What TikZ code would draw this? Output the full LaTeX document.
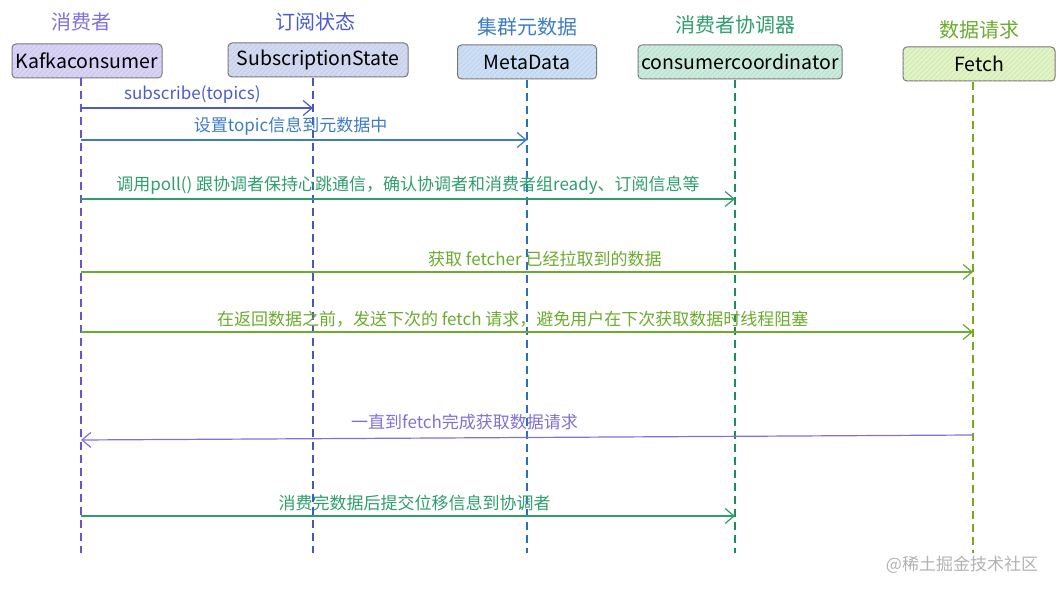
\documentclass[tikz,border=0pt]{standalone}
\usepackage{fontspec}
\setmainfont{Noto Sans CJK SC}
\usetikzlibrary{arrows.meta,patterns.meta}

\definecolor{cKc}{HTML}{6B53CF}
\definecolor{cSs}{HTML}{4656C4}
\definecolor{cMd}{HTML}{2F6EBA}
\definecolor{cCc}{HTML}{1F8C5E}
\definecolor{cFt}{HTML}{78A81E}
\definecolor{tKc}{HTML}{8270D8}
\definecolor{tSs}{HTML}{4B5BCC}
\definecolor{tMd}{HTML}{3D7CC4}
\definecolor{tCc}{HTML}{2E9E6E}
\definecolor{tFt}{HTML}{6BAB2E}
\definecolor{fKc}{HTML}{D8D3F7}
\definecolor{fSs}{HTML}{D2D9F3}
\definecolor{fMd}{HTML}{CBDFF7}
\definecolor{fCc}{HTML}{C9ECDD}
\definecolor{fFt}{HTML}{E0F5C3}

\begin{document}
\begin{tikzpicture}[x=1pt, y=-1pt,
    T/.style = {font=\fontsize{20}{22}\selectfont, text=#1},% titles over the boxes
    P/.style = {rectangle, rounded corners=4pt, draw=gray!90!black,
                line width=1pt, fill=#1, minimum height=34pt,
                font=\fontsize{19.5}{21}\selectfont, inner xsep=2pt,
                postaction={pattern={Lines[angle=45,distance=3.5pt,line width=0.35pt]},
                            pattern color=#1!75!gray}},
 life/.style = {draw=#1, line width=1.8pt, dash pattern=on 8pt off 5pt},
  msg/.style = {draw=#1, line width=1.2pt,
                -{Straight Barb[length=9pt,width=15pt]}},
    M/.style = {above=1pt, font=\fontsize{17}{19}\selectfont, text=#1},
                        ]
\useasboundingbox (0,0) rectangle (1061,593);
% participants
\node[T=tKc] (tkc) at (81,22) {消费者};
\node[T=tSs] (tss) at (315,22) {订阅状态};
\node[T=tMd] (tmd) at (527,27) {集群元数据};
\node[T=tCc] (tcc) at (735,25) {消费者协调器};
\node[T=tFt] (tft) at (979,30) {数据请求};
\node[P=fKc, minimum width=150pt] (kc) at (87,61) {Kafkaconsumer};
\node[P=fSs, minimum width=180pt] (ss) at (318,60) {SubscriptionState};
\node[P=fMd, minimum width=139pt] (md) at (527,62) {MetaData};
\node[P=fCc, minimum width=204pt] (cc) at (740,62) {consumercoordinator};
\node[P=fFt, minimum width=152pt] (ft) at (979,64) {Fetch};
% lifelines
\foreach \n/\x/\y/\c in {kc/81/78/cKc, ss/313/78/cSs, md/527/80/cMd,
                          cc/735/80/cCc, ft/973/82/cFt}
  {
    \coordinate (\n L) at (\x,\y);
    \coordinate (\n E) at (\x,553);
    \draw[life=\c] (\n L) -- (\n E);
  }
% messages
\coordinate (m1) at (0,108);
\coordinate (m2) at (0,140);
\coordinate (m3) at (0,199);
\coordinate (m4) at (0,272);
\coordinate (m5) at (0,332);
\coordinate (m6a) at (0,435);
\coordinate (m6b) at (0,440);
\coordinate (m7) at (0,516);
\draw[msg=tSs] (kcL |- m1) -- node[M=tSs, pos=0.48] {subscribe(topics)} (ssL |- m1);
\draw[msg=tMd] (kcL |- m2) -- node[M=tMd, pos=0.47] {设置topic信息到元数据中} (mdL |- m2);
\draw[msg=tCc] (kcL |- m3) -- node[M=tCc] {调用poll() 跟协调者保持心跳通信，确认协调者和消费者组ready、订阅信息等} (ccL |- m3);
\draw[msg=tFt] (kcL |- m4) -- node[M=tFt, pos=0.52] {获取 fetcher 已经拉取到的数据} (ftL |- m4);
\draw[msg=tFt] (kcL |- m5) -- node[M=tFt, pos=0.484] {在返回数据之前，发送下次的 fetch 请求，避免用户在下次获取数据时线程阻塞} (ftL |- m5);
\draw[msg=tKc] (ftL |- m6a) -- node[M=tKc, pos=0.57, above=3pt] {一直到fetch完成获取数据请求} (kcL |- m6b);
\draw[msg=tCc] (kcL |- m7) -- node[M=tCc, pos=0.51] {消费完数据后提交位移信息到协调者} (ccL |- m7);
% watermark
\node[text=gray!60, font=\fontsize{17}{19}\selectfont] (wm) at (962,565) {@稀土掘金技术社区};
    \end{tikzpicture}
\end{document}
